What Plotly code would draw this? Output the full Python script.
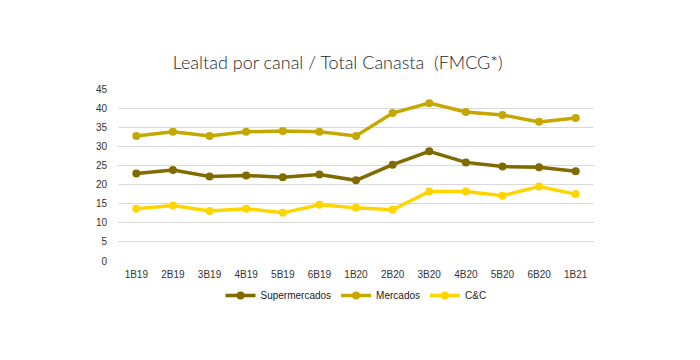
import plotly.graph_objects as go

categories = ["1B19", "2B19", "3B19", "4B19", "5B19", "6B19", "1B20", "2B20", "3B20", "4B20", "5B20", "6B20", "1B21"]
supermercados = [22.9, 23.8, 22.1, 22.4, 21.9, 22.6, 21.1, 25.2, 28.7, 25.8, 24.7, 24.5, 23.5]
mercados = [32.7, 33.8, 32.7, 33.8, 34.0, 33.8, 32.7, 38.7, 41.3, 39.0, 38.2, 36.4, 37.4]
cyc = [13.7, 14.5, 13.1, 13.7, 12.6, 14.7, 13.9, 13.4, 18.2, 18.2, 17.1, 19.5, 17.5]
y_ticks = [0, 5, 10, 15, 20, 25, 30, 35, 40, 45]

series = [
    ("Supermercados", supermercados, "#7F6B00"),
    ("Mercados", mercados, "#C4A800"),
    ("C&C", cyc, "#FFD500"),
]

fig = go.Figure()
for name, vals, col in series:
    fig.add_trace(go.Scatter(
        x=categories, y=vals, name=name, mode="lines+markers",
        line=dict(color=col, width=3.5),
        marker=dict(color=col, size=8),
    ))

fig.update_layout(
    width=700, height=360,
    margin=dict(l=110, r=114, t=81, b=107, autoexpand=False),
    paper_bgcolor="white", plot_bgcolor="white",
    title=dict(text="Lealtad por canal / Total Canasta  (FMCG*)",
               x=0.471, xanchor="center", y=0.847, yanchor="middle",
               font=dict(family="Lato", size=18, color="#262626", weight=300)),
    font=dict(family="Liberation Sans, Arial", size=10, color="#333333"),
    showlegend=True,
    legend=dict(orientation="h", x=0.5, xanchor="center", y=-0.2, yanchor="middle",
                font=dict(size=10, color="#222222"),
                traceorder="normal"),
    xaxis=dict(range=[-0.5, 12.5], showgrid=False, showline=False, zeroline=False,
               ticks="outside", ticklen=4, tickcolor="rgba(0,0,0,0)",
               tickfont=dict(size=10, color="#333333")),
    yaxis=dict(range=[0, 45], tickvals=y_ticks, showgrid=True, gridcolor="#D9D9D9",
               gridwidth=1, zeroline=False, showline=False,
               ticks="outside", ticklen=8, tickcolor="rgba(0,0,0,0)",
               tickfont=dict(size=10, color="#333333")),
)

fig.write_html("out.html")
